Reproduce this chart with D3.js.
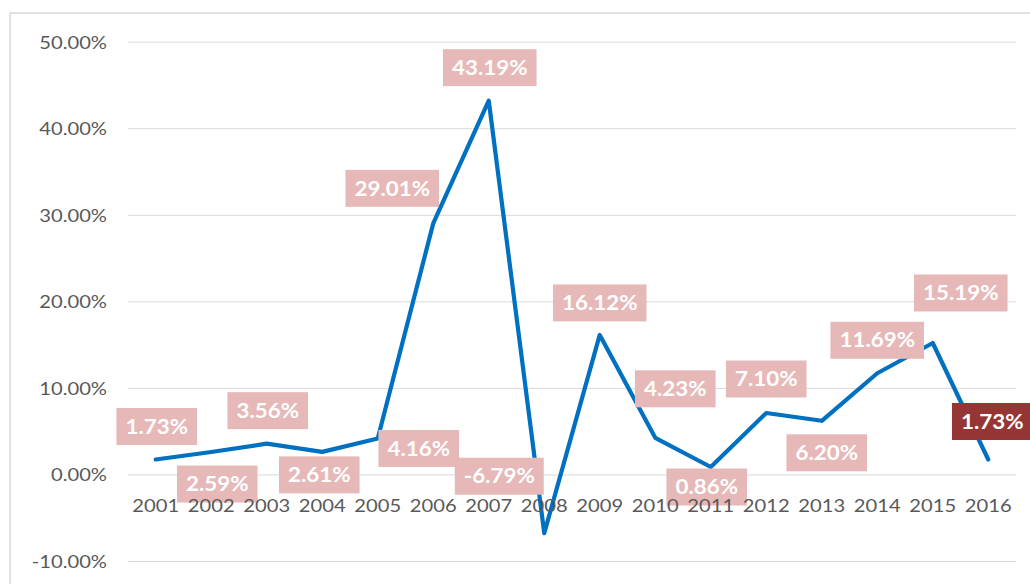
<!DOCTYPE html>
<html>
<head>
<meta charset="utf-8">
<script src="https://cdn.jsdelivr.net/npm/d3@7/dist/d3.min.js"></script>
<style>
  html, body { margin: 0; padding: 0; background: #fff; }
  svg { display: block; }
</style>
</head>
<body>
<svg id="chart" width="1030" height="584"></svg>
<script>
// Annual change, 2001–2016
const years = ["2001","2002","2003","2004","2005","2006","2007","2008",
               "2009","2010","2011","2012","2013","2014","2015","2016"];
const change = [1.73, 2.59, 3.56, 2.61, 4.16, 29.01, 43.19, -6.79,
                16.12, 4.23, 0.86, 7.10, 6.20, 11.69, 15.19, 1.73];
const yTicks = [-10, 0, 10, 20, 30, 40, 50];
const highlightYear = "2016";

// label placement: pixel offset of each label box centre from its point
const labelOffset = [
  [1,-33],[6,32],[1,-33],[-3,23],[41,10],[-41,-35],[1,-33],[-45,-57],
  [0,-32],[20,-49],[-4,20],[0,-34],[5,32],[0,-33],[28,-50],[4,-38]
];

const W = 1030, H = 584;
const plot = { left: 128, right: 1016, top: 41.7, bottom: 561 };
const stretch = 1.12;           // horizontal glyph stretch
const font = "Lato, 'Open Sans', sans-serif";
const pct = d => d3.format(".2f")(d).replace("\u2212", "-") + "%";

const svg = d3.select("#chart");

// chart frame
svg.append("rect")
  .attr("x", 10).attr("y", 13)
  .attr("width", W + 20).attr("height", H + 20)
  .attr("fill", "#fff")
  .attr("stroke", "#d9d9d9").attr("stroke-width", 1.5);

const x = d3.scaleBand().domain(years).range([plot.left, plot.right]);
const y = d3.scaleLinear().domain([-10, 50]).range([plot.bottom, plot.top]);
const cx = d => x(d) + x.bandwidth() / 2;

// y axis + gridlines
const yAxis = d3.axisLeft(y)
  .tickValues(yTicks)
  .tickSize(-(plot.right - plot.left))
  .tickPadding(0)
  .tickFormat(pct);

const gy = svg.append("g")
  .attr("transform", `translate(${plot.left},0)`)
  .call(yAxis);
gy.select(".domain").remove();
gy.selectAll(".tick line").attr("stroke", "#d9d9d9").attr("stroke-width", 1);
gy.selectAll(".tick text")
  .attr("x", 0).attr("dy", "0.35em")
  .attr("transform", `translate(-21,0) scale(${stretch},1)`)
  .attr("fill", "#595959")
  .style("font-family", font).style("font-size", "18px");

// line
const line = d3.line()
  .x((d, i) => cx(years[i]))
  .y(d => y(d));

svg.append("path")
  .datum(change)
  .attr("d", line)
  .attr("fill", "none")
  .attr("stroke", "#0070c0")
  .attr("stroke-width", 4.2)
  .attr("stroke-linejoin", "round")
  .attr("stroke-linecap", "round");

// data labels
const labels = svg.append("g").selectAll("g")
  .data(change)
  .join("g")
  .attr("transform", (d, i) =>
    `translate(${cx(years[i]) + labelOffset[i][0]},${y(d) + labelOffset[i][1]})`);

labels.each(function(d, i) {
  const g = d3.select(this);
  const hl = years[i] === highlightYear;
  const rect = g.append("rect").attr("fill", hl ? "#963634" : "#e6b9b8");
  const t = g.append("text")
    .attr("text-anchor", "middle")
    .attr("dy", "0.36em")
    .attr("transform", `scale(${stretch},1)`)
    .attr("fill", "#fff")
    .style("font-family", font)
    .style("font-size", "20px")
    .style("font-weight", "bold")
    .text(pct(d));
  const bw = t.node().getComputedTextLength() * stretch + 18;
  const bh = 37;
  rect.attr("x", -bw / 2).attr("y", -bh / 2).attr("width", bw).attr("height", bh);
});

// x axis labels at the zero line, drawn above the label boxes
const xAxis = d3.axisBottom(x).tickSize(0).tickPadding(0);
const gx = svg.append("g")
  .attr("transform", `translate(0,${y(0)})`)
  .call(xAxis);
gx.select(".domain").remove();
gx.selectAll(".tick text")
  .attr("y", 0).attr("dy", "0.35em")
  .attr("transform", `translate(0,31) scale(${stretch},1)`)
  .attr("fill", "#595959")
  .style("font-family", font).style("font-size", "18px");
</script>
</body>
</html>
